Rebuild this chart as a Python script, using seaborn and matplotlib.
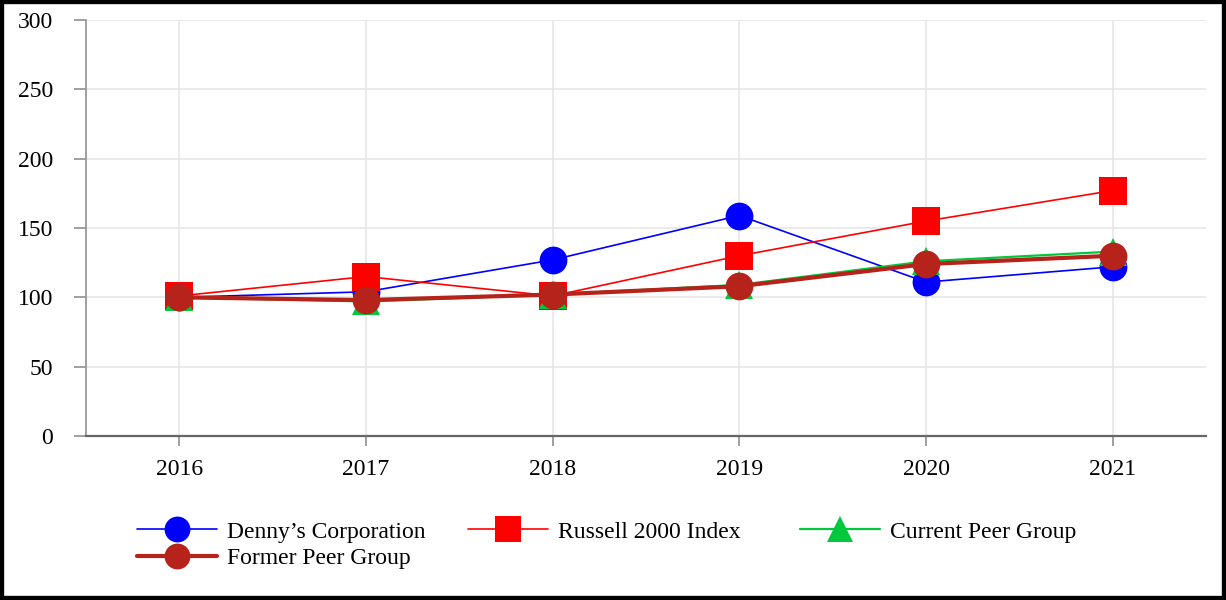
import matplotlib
matplotlib.use("Agg")
import matplotlib.pyplot as plt
import seaborn as sns
import pandas as pd
from matplotlib.patches import Rectangle

years = ["2016", "2017", "2018", "2019", "2020", "2021"]
dennys = [100, 104, 127, 159, 111, 122]
russell = [101, 115, 101, 130, 155, 177]
current_peer = [100, 97, 102, 109, 126, 133]
former_peer = [100, 98, 102, 108, 124, 130]
series_names = ["Denny\u2019s Corporation", "Russell 2000 Index", "Current Peer Group", "Former Peer Group"]
y_ticks = [0, 50, 100, 150, 200, 250, 300]

sns.set_style("white")
plt.rcParams["font.family"] = ["Liberation Serif", "DejaVu Serif"]
plt.rcParams["text.color"] = "black"

fig = plt.figure(figsize=(12.26, 6.0), dpi=100)
ax = fig.add_axes([86 / 1226, 1 - 436 / 600, (1206 - 86) / 1226, (436 - 20) / 600])

styles = [
    dict(color="#0000ff", marker="o", markersize=20, linewidth=1.2),
    dict(color="#ff0000", marker="s", markersize=20.5, linewidth=1.2),
    dict(color="#00c83c", marker="^", markersize=20, linewidth=1.6),
    dict(color="#b5231a", marker="o", markersize=20, linewidth=3.0),
]
values = [dennys, russell, current_peer, former_peer]

for name, vals, st in zip(series_names, values, styles):
    df = pd.DataFrame({"year": years, "value": vals})
    sns.lineplot(data=df, x="year", y="value", ax=ax, sort=False, errorbar=None,
                 color=st["color"], marker=st["marker"], markersize=st["markersize"],
                 linewidth=st["linewidth"], markeredgewidth=0, label=name, zorder=3)

ax.set_xlim(-0.5, 5.5)
ax.set_ylim(0, 300)
ax.set_yticks(y_ticks)
ax.set_xlabel("")
ax.set_ylabel("")
ax.grid(True, color="#e6e6e6", linewidth=1.2, zorder=0)
ax.set_axisbelow(True)

for s in ["top", "right"]:
    ax.spines[s].set_visible(False)
ax.spines["left"].set_color("#999999")
ax.spines["left"].set_linewidth(1.3)
ax.spines["bottom"].set_color("#666666")
ax.spines["bottom"].set_linewidth(1.6)

ax.tick_params(axis="y", direction="out", length=8.6, width=1.3, color="#999999",
               pad=15, labelsize=17, labelcolor="black", left=True)
ax.tick_params(axis="x", direction="out", length=7.5, width=1.3, color="#999999",
               pad=9, labelsize=17, labelcolor="black", bottom=True)

handles, labels = ax.get_legend_handles_labels()
ax.get_legend().remove()

# legend laid out in equal-width columns, row by row
legend_kw = dict(loc="upper left", frameon=False, fontsize=17, labelcolor="black",
                 handlelength=3.4, handletextpad=0.42, labelspacing=0.2,
                 borderpad=0, borderaxespad=0, markerscale=0.93)
col_groups = [[0, 3], [1], [2]]
col_x = [137, 468, 800]
for grp, x in zip(col_groups, col_x):
    fig.legend([handles[i] for i in grp], [labels[i] for i in grp],
               bbox_to_anchor=(x / 1226, 1 - 521 / 600), **legend_kw)

fig.add_artist(Rectangle((0, 0), 1, 1, transform=fig.transFigure, fill=False,
                         edgecolor="black", linewidth=6, clip_on=False))

fig.savefig("out.png", dpi=100)
